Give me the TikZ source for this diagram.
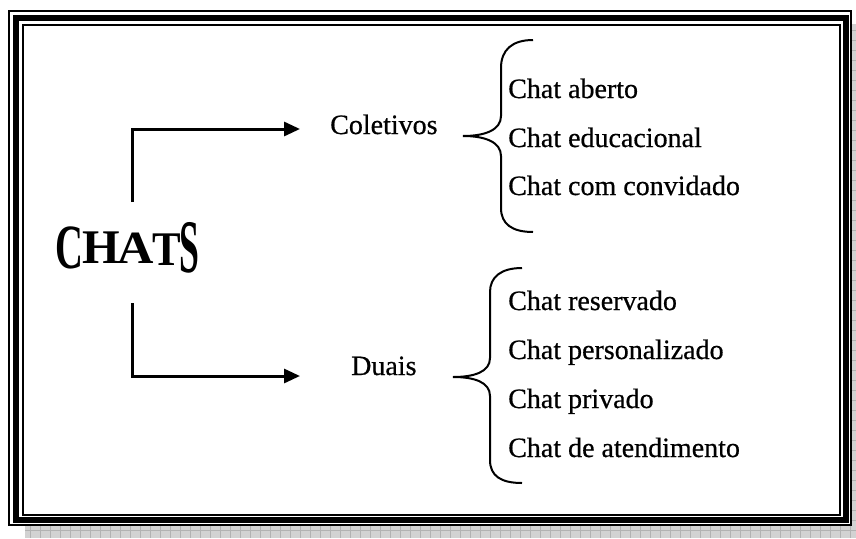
\documentclass[tikz,border=0pt]{standalone}
\usepackage{fontspec}
\setmainfont{Liberation Serif}
\newfontfamily\semib{Liberation Serif}[FakeBold=0.6]
\usetikzlibrary{arrows.meta}
\newcommand\chl[4]{\raisebox{#4pt}{\scalebox{#1}[#2]{#3}}}
\tikzset{
  lbl/.style={anchor=base west, inner sep=0pt, font=\semib\fontsize{28}{34}\selectfont},
  conn/.style={line width=3pt, -{Triangle[length=16pt,width=14pt]}},
  brace/.style={line width=2pt},
}
\begin{document}
\begin{tikzpicture}[x=1pt,y=-1pt]
\useasboundingbox (0,0) rectangle (856,538);
% shadow
\fill[gray!35] (25,24) rectangle (856,538);
\draw[gray!60, line width=0.6pt, step=10pt] (25,24) grid (856,538);
% frame
\fill[white] (8,10) rectangle (851.5,526);
\draw[line width=2pt] (9,11) rectangle (850.5,525);
\draw[line width=6pt] (16,17.5) rectangle (845.5,519.5);
\draw[line width=2pt] (23,25) rectangle (840,515);
% main word
\node[anchor=base west, inner sep=0pt, font=\fontsize{42}{42}\selectfont\bfseries] (chats) at (55,263)
  {\chl{0.92}{1.5}{C}{-5}\kern-1pt\chl{1.15}{1.15}{H}{0}\kern-2pt\chl{1.2}{1.1}{A}{0}\kern-2pt\chl{1.02}{1.15}{T}{-2}\kern-1pt\chl{0.85}{1.8}{S}{-9}};
% categories
\node[lbl] (col) at (330,134) {Coletivos};
\node[lbl] (dua) at (351,375) {Duais};
% connectors
\coordinate (up) at (132,202);
\coordinate (uptip) at (300,129);
\coordinate (dn) at (132,303);
\coordinate (dntip) at (300,376);
\draw[conn] (up) |- (uptip);
\draw[conn] (dn) |- (dntip);
% top list
\node[lbl] (t1) at (508,98) {Chat aberto};
\node[lbl] (t2) at (508,147) {Chat educacional};
\node[lbl] (t3) at (508,195) {Chat com convidado};
% bottom list
\node[lbl] (b1) at (508,310) {Chat reservado};
\node[lbl] (b2) at (508,359) {Chat personalizado};
\node[lbl] (b3) at (508,408) {Chat privado};
\node[lbl] (b4) at (508,457) {Chat de atendimento};
% braces
\draw[brace] (533,40) .. controls (512,40) and (501,50) .. (501,68)
  -- (501,116) .. controls (501,130) and (485,136) .. (463,136)
  .. controls (485,136) and (501,142) .. (501,156)
  -- (501,208) .. controls (501,224) and (512,232) .. (533,232);
\draw[brace] (522,268) .. controls (501,268) and (490,277) .. (490,292)
  -- (490,358) .. controls (490,372) and (474,377) .. (453,377)
  .. controls (474,377) and (490,382) .. (490,396)
  -- (490,460) .. controls (490,476) and (501,483) .. (522,483);
\end{tikzpicture}
\end{document}
